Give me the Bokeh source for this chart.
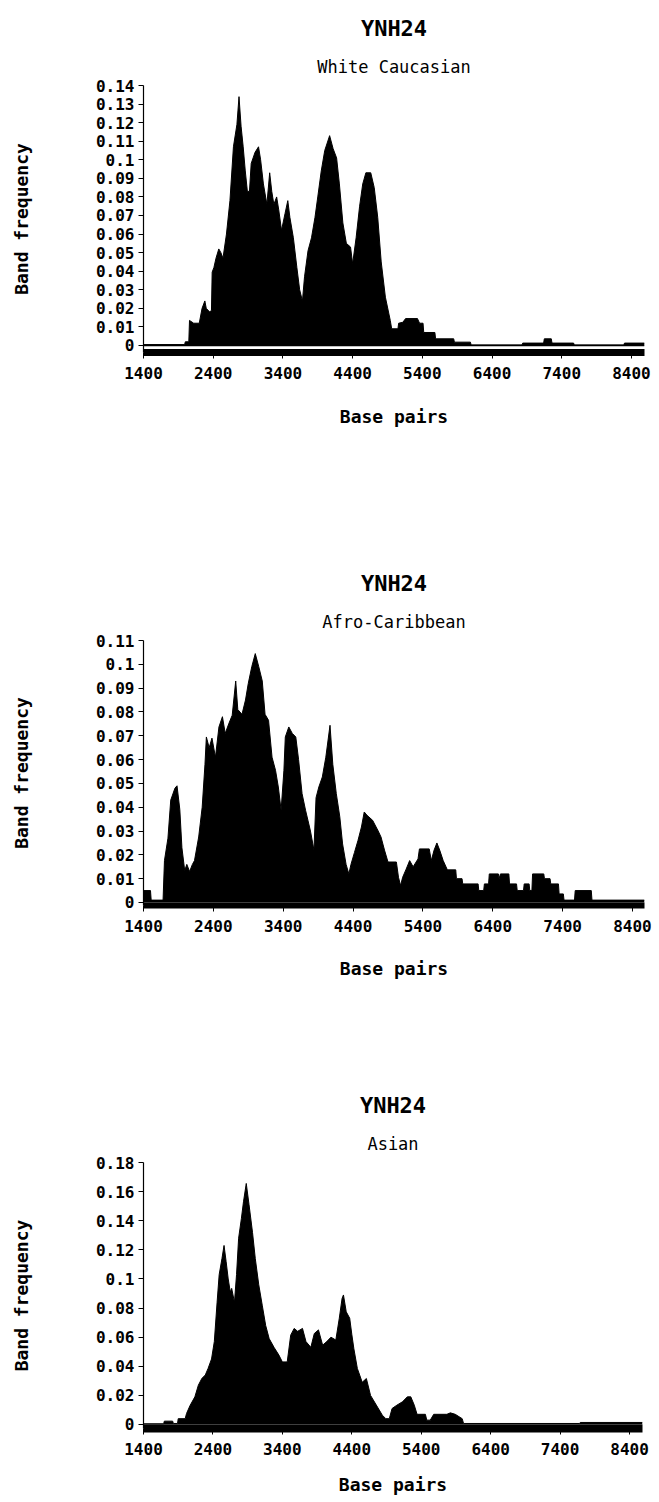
from bokeh.plotting import figure
from bokeh.models import Range1d, FixedTicker, CustomJSTickFormatter, Title, Span
from bokeh.layouts import column
from bokeh.embed import file_html
from bokeh.resources import INLINE

# ---------------- data ----------------
main_title = "YNH24"
x_label = "Base pairs"
y_label = "Band frequency"
x_ticks = [1400, 2400, 3400, 4400, 5400, 6400, 7400, 8400]

# White Caucasian
wc_name = "White Caucasian"
wc_bp = [1400, 1990, 2000, 2050, 2060, 2120, 2200, 2240, 2280, 2300, 2350, 2375, 2385, 2410,
         2440, 2480, 2510, 2540, 2590, 2640, 2690, 2740, 2770, 2800, 2830, 2860, 2890, 2920,
         2945, 3000, 3050, 3080, 3120, 3170, 3210, 3240, 3270, 3310, 3340, 3380, 3430, 3470,
         3500, 3550, 3600, 3640, 3680, 3710, 3760, 3810, 3860, 3900, 3950, 4000, 4070, 4120,
         4170, 4210, 4260, 4310, 4370, 4400, 4450, 4500, 4545, 4590, 4660, 4710, 4760, 4810,
         4870, 4940, 4960, 5050, 5060, 5120, 5160, 5330, 5360, 5410, 5420, 5580, 5590, 5850,
         5860, 6090, 6100, 6830, 6840, 7140, 7150, 7250, 7260, 7570, 7580, 8290, 8300, 8587]
wc_freq = [0.0005, 0.0005, 0.002, 0.002, 0.0135, 0.012, 0.012, 0.02, 0.024, 0.02, 0.018, 0.019,
           0.0395, 0.042, 0.047, 0.052, 0.050, 0.047, 0.060, 0.078, 0.107, 0.119, 0.134, 0.118,
           0.107, 0.094, 0.083, 0.083, 0.098, 0.104, 0.107, 0.100, 0.087, 0.076, 0.093, 0.083,
           0.076, 0.080, 0.073, 0.062, 0.071, 0.078, 0.069, 0.058, 0.042, 0.030, 0.024, 0.037,
           0.051, 0.058, 0.069, 0.080, 0.094, 0.105, 0.113, 0.106, 0.101, 0.087, 0.066, 0.055,
           0.053, 0.044, 0.058, 0.075, 0.087, 0.093, 0.093, 0.085, 0.069, 0.045, 0.026, 0.0135,
           0.009, 0.009, 0.012, 0.0125, 0.0145, 0.0145, 0.012, 0.012, 0.007, 0.007, 0.0036,
           0.0036, 0.0018, 0.0018, 0.0003, 0.0003, 0.0013, 0.0013, 0.0036, 0.0036, 0.0013,
           0.0013, 0.0003, 0.0003, 0.0013, 0.0013]
wc_yticks = [0, 0.01, 0.02, 0.03, 0.04, 0.05, 0.06, 0.07, 0.08, 0.09, 0.1, 0.11, 0.12, 0.13, 0.14]

# Afro-Caribbean
ac_name = "Afro-Caribbean"
ac_bp = [1400, 1500, 1510, 1680, 1700, 1750, 1790, 1850, 1880, 1920, 1950, 1990, 2020, 2060,
         2100, 2130, 2190, 2240, 2280, 2300, 2340, 2380, 2430, 2480, 2530, 2570, 2620, 2670,
         2720, 2750, 2810, 2860, 2900, 2950, 3000, 3050, 3100, 3140, 3190, 3240, 3290, 3330,
         3370, 3410, 3430, 3480, 3530, 3580, 3620, 3670, 3720, 3790, 3840, 3870, 3910, 3960,
         4010, 4070, 4110, 4160, 4210, 4250, 4300, 4340, 4370, 4420, 4470, 4520, 4560, 4600,
         4680, 4760, 4800, 4850, 4900, 5020, 5050, 5080, 5110, 5160, 5210, 5260, 5330, 5350,
         5490, 5520, 5560, 5600, 5640, 5690, 5750, 5870, 5880, 5960, 5970, 6190, 6200, 6270,
         6280, 6340, 6350, 6480, 6490, 6510, 6630, 6640, 6740, 6750, 6840, 6850, 6920, 6930,
         6960, 6970, 7130, 7140, 7220, 7230, 7340, 7350, 7410, 7420, 7570, 7580, 7810, 7820,
         8572]
ac_freq = [0.005, 0.005, 0.001, 0.001, 0.0176, 0.027, 0.043, 0.048, 0.049, 0.039, 0.023,
           0.0134, 0.016, 0.013, 0.016, 0.0176, 0.0275, 0.040, 0.058, 0.0695, 0.065, 0.069,
           0.061, 0.0737, 0.078, 0.071, 0.075, 0.0786, 0.093, 0.081, 0.079, 0.085, 0.092, 0.099,
           0.1045, 0.099, 0.093, 0.079, 0.0765, 0.061, 0.0555, 0.0485, 0.0387, 0.0555, 0.0695,
           0.0737, 0.071, 0.0695, 0.060, 0.0457, 0.0387, 0.030, 0.022, 0.044, 0.0485, 0.0527,
           0.061, 0.0744, 0.058, 0.0457, 0.036, 0.0246, 0.016, 0.012, 0.016, 0.021, 0.026,
           0.0317, 0.038, 0.0366, 0.0345, 0.030, 0.0275, 0.022, 0.017, 0.017, 0.0106, 0.0071,
           0.0106, 0.014, 0.0176, 0.015, 0.0183, 0.0225, 0.0225, 0.0176, 0.022, 0.025, 0.022,
           0.0176, 0.0137, 0.0137, 0.010, 0.010, 0.0078, 0.0078, 0.005, 0.005, 0.0078, 0.0078,
           0.012, 0.012, 0.010, 0.012, 0.012, 0.0078, 0.0078, 0.005, 0.005, 0.0078, 0.0078,
           0.005, 0.005, 0.012, 0.012, 0.010, 0.010, 0.0078, 0.0078, 0.0036, 0.0036, 0.001,
           0.001, 0.005, 0.005, 0.001, 0.001]
ac_yticks = [0, 0.01, 0.02, 0.03, 0.04, 0.05, 0.06, 0.07, 0.08, 0.09, 0.1, 0.11]

# Asian
as_name = "Asian"
as_bp = [1400, 1690, 1700, 1820, 1830, 1890, 1900, 2000, 2020, 2070, 2140, 2190, 2240, 2290,
         2330, 2380, 2420, 2460, 2490, 2530, 2560, 2590, 2620, 2650, 2670, 2710, 2740, 2770,
         2810, 2840, 2880, 2920, 2970, 3010, 3060, 3110, 3160, 3210, 3280, 3350, 3400, 3470,
         3520, 3570, 3620, 3690, 3740, 3810, 3860, 3920, 3980, 4040, 4100, 4170, 4220, 4260,
         4280, 4320, 4370, 4400, 4430, 4480, 4550, 4610, 4670, 4770, 4840, 4890, 4940, 4980,
         5050, 5130, 5200, 5250, 5300, 5340, 5460, 5480, 5530, 5580, 5770, 5820, 5890, 5990,
         6010, 7680, 7690, 8587]
as_freq = [0.0005, 0.0005, 0.0023, 0.0023, 0.0007, 0.0007, 0.004, 0.004, 0.0076, 0.013, 0.019,
           0.027, 0.0316, 0.034, 0.0385, 0.045, 0.057, 0.084, 0.103, 0.114, 0.123, 0.112, 0.100,
           0.091, 0.0935, 0.084, 0.103, 0.128, 0.1416, 0.153, 0.1656, 0.151, 0.132, 0.114,
           0.096, 0.082, 0.068, 0.059, 0.053, 0.0477, 0.043, 0.043, 0.0614, 0.066, 0.064, 0.066,
           0.057, 0.053, 0.0625, 0.065, 0.0545, 0.057, 0.060, 0.058, 0.073, 0.0866, 0.089,
           0.0774, 0.073, 0.062, 0.052, 0.0385, 0.029, 0.0316, 0.020, 0.012, 0.0064, 0.004,
           0.004, 0.011, 0.0133, 0.0156, 0.019, 0.019, 0.0133, 0.007, 0.007, 0.003, 0.003,
           0.007, 0.007, 0.008, 0.007, 0.004, 0.0007, 0.0007, 0.0014, 0.0014]
as_yticks = [0, 0.02, 0.04, 0.06, 0.08, 0.1, 0.12, 0.14, 0.16, 0.18]

FONT = "DejaVu Sans Mono"


def panel(name, bp, freq, yticks, x_end, y_start, left, right, top, fw, fh, bottom,
          axis_w, xlabel_standoff, zero_line=False):
    p = figure(frame_width=fw, frame_height=fh,
               x_range=Range1d(1400, x_end), y_range=Range1d(y_start, yticks[-1]),
               output_backend="svg", toolbar_location=None, title=main_title,
               min_border_left=left, min_border_right=right,
               min_border_top=top, min_border_bottom=bottom)
    p.outline_line_color = None
    p.xgrid.visible = False
    p.ygrid.visible = False
    p.background_fill_color = "white"
    p.border_fill_color = "white"

    # main title (outer)
    p.title.align = "center"
    p.title.text_font = FONT
    p.title.text_font_size = "22px"
    p.title.text_font_style = "bold"
    p.title.text_color = "black"
    p.title.standoff = 10
    # subtitle (closer to the frame)
    p.add_layout(Title(text=name, align="center", text_font=FONT,
                       text_font_size="17px", text_font_style="normal",
                       text_color="black", standoff=18), "above")

    p.varea(x=bp, y1=0, y2=freq, color="black")
    p.line(x=bp, y=freq, color="black", line_width=1)
    if zero_line:
        p.add_layout(Span(location=0, dimension="width", line_color="black", line_width=1.5))

    xa = p.xaxis[0]
    xa.ticker = FixedTicker(ticks=x_ticks)
    xa.axis_line_width = axis_w
    xa.axis_line_color = "black"
    xa.major_tick_out = 6
    xa.major_tick_in = 0
    xa.minor_tick_out = 0
    xa.minor_tick_in = 0
    xa.major_label_standoff = 8
    xa.major_label_text_font = FONT
    xa.major_label_text_font_size = "16px"
    xa.major_label_text_font_style = "bold"
    xa.major_label_text_color = "black"
    xa.axis_label = x_label
    xa.axis_label_text_font = FONT
    xa.axis_label_text_font_size = "18px"
    xa.axis_label_text_font_style = "bold"
    xa.axis_label_text_color = "black"
    xa.axis_label_standoff = xlabel_standoff

    ya = p.yaxis[0]
    ya.ticker = FixedTicker(ticks=yticks)
    ya.formatter = CustomJSTickFormatter(code="return String(Math.round(tick*100)/100);")
    ya.axis_line_color = "black"
    ya.axis_line_width = 1.2
    ya.major_tick_out = 5
    ya.major_tick_in = 0
    ya.minor_tick_out = 0
    ya.minor_tick_in = 0
    ya.major_label_standoff = 4
    ya.major_label_text_font = FONT
    ya.major_label_text_font_size = "16px"
    ya.major_label_text_font_style = "bold"
    ya.major_label_text_color = "black"
    ya.axis_label = y_label
    ya.axis_label_text_font = FONT
    ya.axis_label_text_font_size = "18px"
    ya.axis_label_text_font_style = "bold"
    ya.axis_label_text_color = "black"
    ya.axis_label_standoff = 61
    return p


p1 = panel(wc_name, wc_bp, wc_freq, wc_yticks, 8587, -0.00377,
           140, 18, 85, 501, 267, 118, 7, 24, zero_line=True)
p2 = panel(ac_name, ac_bp, ac_freq, ac_yticks, 8572, -0.00126,
           134, 24, 170, 501, 265, 125, 6, 23)
p3 = panel(as_name, as_bp, as_freq, as_yticks, 8587, -0.00275,
           143, 17, 132, 499, 266, 74, 8, 16)

layout = column(p1, p2, p3, spacing=0)
open("out.html", "w").write(file_html(layout, INLINE))
